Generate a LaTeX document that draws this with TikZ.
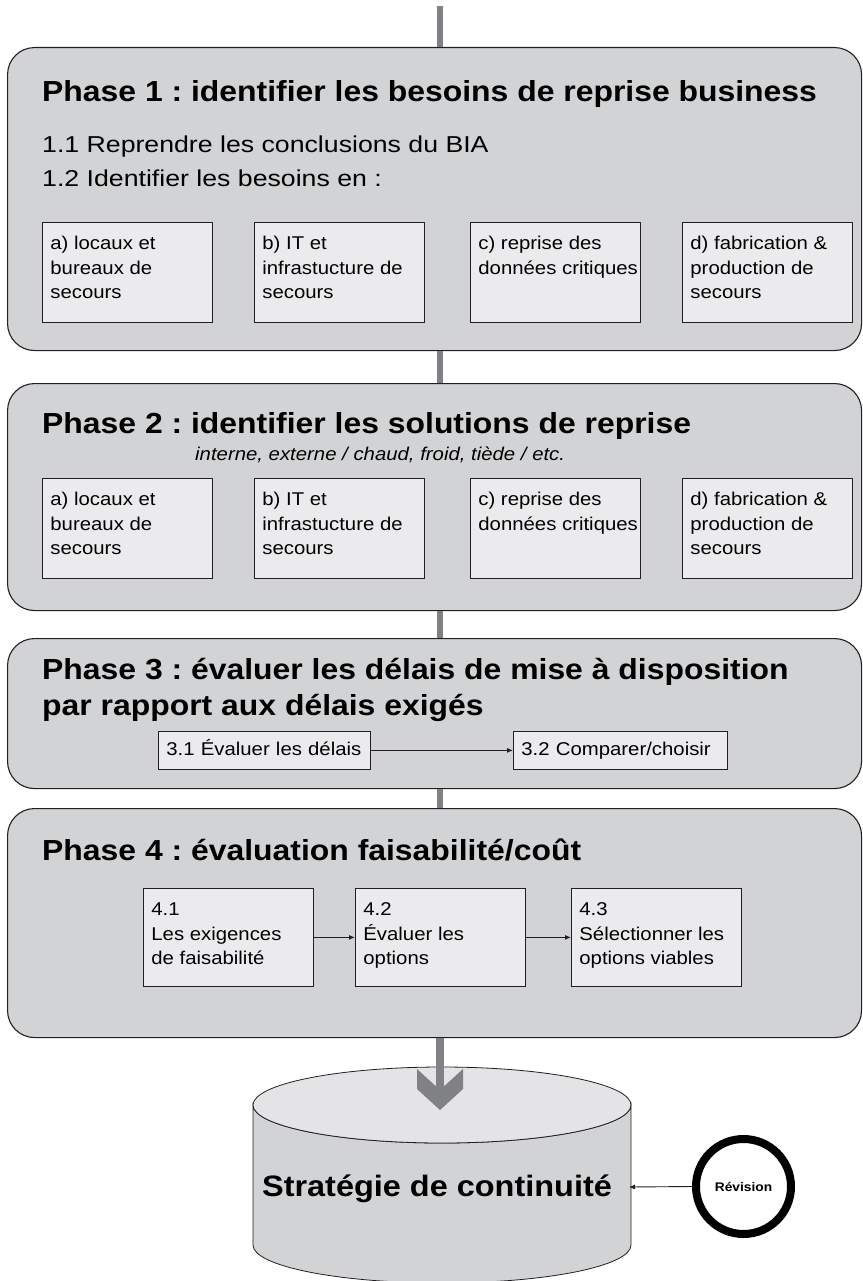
\documentclass[tikz,border=0pt]{standalone}
\usepackage{fontspec}
\setmainfont{Liberation Sans}[FakeStretch=1.1]
\newfontfamily\widefont{Liberation Sans}[FakeStretch=1.16]
\usetikzlibrary{arrows.meta}
\definecolor{phasefill}{RGB}{210,211,213}
\definecolor{subfill}{RGB}{235,235,237}
\definecolor{conn}{RGB}{128,129,132}
\definecolor{edge}{RGB}{35,31,32}
\definecolor{cyltop}{RGB}{228,228,230}
\newcommand\boxtxt[3]{\parbox[t][#1][t]{#2}{\raggedright\strut #3}}
\frenchspacing
\begin{document}
\begin{tikzpicture}[x=1pt,y=-1pt,
  phase/.style={draw=edge, line width=1.1pt, fill=phasefill, rounded corners=27pt,
    anchor=north west, inner sep=0pt, minimum width=854pt},
  title/.style={anchor=base west, inner sep=0pt, font=\fontsize{29}{34}\selectfont\bfseries},
  subline/.style={anchor=base west, inner sep=0pt, font=\widefont\fontsize{23}{27}\selectfont},
  sub/.style={draw=edge, line width=0.8pt, fill=subfill, anchor=north west,
    inner xsep=8pt, inner ysep=10pt, font=\fontsize{18.5}{24.5}\selectfont},
  small/.style={draw=edge, line width=0.8pt, fill=subfill, anchor=north west,
    minimum height=38pt, inner xsep=8pt, inner ysep=0pt, align=left,
    text height=14pt, text depth=4pt, font=\fontsize{18.5}{24.5}\selectfont},
  link/.style={draw=conn, line width=6pt},
  thin/.style={draw=edge, line width=0.9pt, -{Latex[length=6pt,width=5pt]}}
]
\useasboundingbox (0,0) rectangle (862,1281);

% phase boxes
\node[phase, minimum height=303pt] (p1) at (7,47) {};
\node[phase, minimum height=227pt] (p2) at (7,383) {};
\node[phase, minimum height=150pt] (p3) at (7,638) {};
\node[phase, minimum height=229pt] (p4) at (7,808) {};

% gray connectors
\coordinate (top) at (440,6);
\draw[link] (top) -- (top |- p1.north);
\draw[link] (p1.south -| top) -- (p2.north -| top);
\draw[link] (p2.south -| top) -- (p3.north -| top);
\draw[link] (p3.south -| top) -- (p4.north -| top);

% Phase 1
\node[title] (t1) at (42,102) {Phase 1 : identifier les besoins de reprise business};
\node[subline] (l11) at (42,153) {1.1 Reprendre les conclusions du BIA};
\node[subline] (l12) at (42,187) {1.2 Identifier les besoins en :};
\node[sub] (a1) at (42,222) {\boxtxt{80pt}{154pt}{a) locaux et\\bureaux de\\secours}};
\node[sub] (b1) at (254,222) {\boxtxt{80pt}{154pt}{b) IT et\\infrastucture de\\secours}};
\node[sub] (c1) at (470,222) {\boxtxt{80pt}{154pt}{c) reprise des\\\mbox{données critiques}}};
\node[sub] (d1) at (682,222) {\boxtxt{80pt}{154pt}{d) fabrication \&\\production de\\secours}};

% Phase 2
\node[title] (t2) at (42,433) {Phase 2 : identifier les solutions de reprise};
\node[anchor=base west, inner sep=0pt, font=\fontsize{18.5}{22}\selectfont\itshape] (it2) at (195,460)
  {interne, externe / chaud, froid, tiède / etc.};
\node[sub] (a2) at (42,478) {\boxtxt{80pt}{154pt}{a) locaux et\\bureaux de\\secours}};
\node[sub] (b2) at (254,478) {\boxtxt{80pt}{154pt}{b) IT et\\infrastucture de\\secours}};
\node[sub] (c2) at (470,478) {\boxtxt{80pt}{154pt}{c) reprise des\\\mbox{données critiques}}};
\node[sub] (d2) at (682,478) {\boxtxt{80pt}{154pt}{d) fabrication \&\\production de\\secours}};

% Phase 3
\node[title] (t3a) at (42,679) {Phase 3 : évaluer les délais de mise à disposition};
\node[title] (t3b) at (42,715) {par rapport aux délais exigés};
\node[small, text width=196pt] (s31) at (158,731) {3.1 Évaluer les délais};
\node[small, text width=198pt] (s32) at (513,731) {3.2 Comparer/choisir};
\draw[thin] (s31.east) -- (s32.west);

% Phase 4
\node[title] (t4) at (42,860) {Phase 4 : évaluation faisabilité/coût};
\node[sub] (s41) at (143,888) {\boxtxt{78pt}{154pt}{4.1\\Les exigences\\de faisabilité}};
\node[sub] (s42) at (355,888) {\boxtxt{78pt}{154pt}{4.2\\Évaluer les\\options}};
\node[sub] (s43) at (571,888) {\boxtxt{78pt}{154pt}{4.3\\Sélectionner les\\options viables}};
\draw[thin] (s41.east) -- (s42.west);
\draw[thin] (s42.east) -- (s43.west);

% cylinder
\path[draw=edge, line width=0.8pt, fill=phasefill]
  (253,1105) -- (253,1245) arc[start angle=180, end angle=0, x radius=189, y radius=38]
  -- (631,1105) arc[start angle=0, end angle=180, x radius=189, y radius=38] -- cycle;
\draw[edge, line width=0.8pt, fill=cyltop] (442,1105) ellipse[x radius=189, y radius=38];
\node[anchor=base, inner sep=0pt, font=\fontsize{29.5}{34}\selectfont\bfseries] (strat) at (437,1196)
  {Stratégie de continuité};
\coordinate (cylE) at (629,1187);

% big arrow into the cylinder
\coordinate (notch) at (440,1092);
\draw[draw=conn, line width=8pt] (p4.south -| top) -- (notch);
\fill[conn] (440,1110) -- (417,1089) -- (417,1069) -- (440,1090) -- (463,1069) -- (463,1089) -- cycle;

% revision
\node[circle, draw=black, line width=8pt, minimum size=95pt, inner sep=0pt, outer sep=0pt,
  font=\fontsize{12.5}{15}\selectfont\bfseries] (rev) at (743.5,1186.5) {Révision};
\draw[thin] ([xshift=-4pt]rev.west) -- (cylE);
\end{tikzpicture}
\end{document}
